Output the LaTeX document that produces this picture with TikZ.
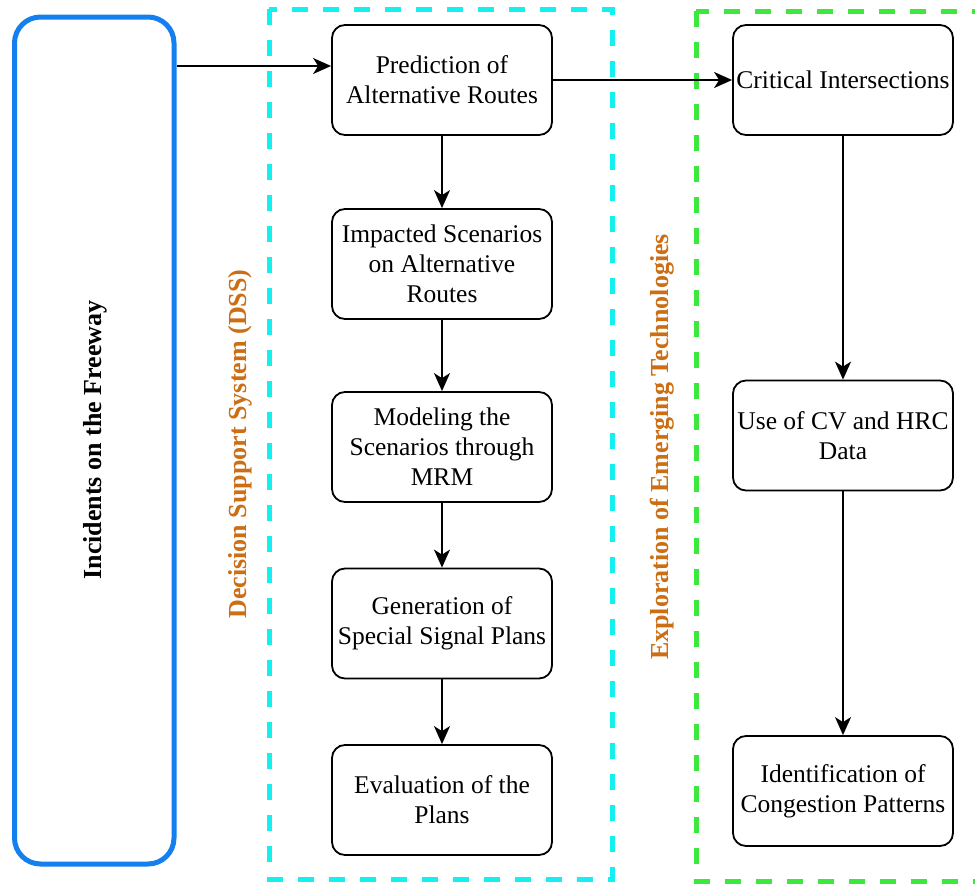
\documentclass[tikz,border=0pt]{standalone}
\usepackage{fontspec}
\setmainfont{Liberation Serif}
\usetikzlibrary{arrows.meta}
\definecolor{incblue}{RGB}{20,128,240}
\definecolor{dsscyan}{RGB}{20,240,240}
\definecolor{etgreen}{RGB}{60,232,60}
\definecolor{lblorange}{RGB}{204,110,20}
\tikzset{
  proc/.style={draw, rounded corners=13pt, line width=1.8pt,
    minimum width=220pt, minimum height=110pt, align=center,
    font=\fontsize{25.5}{30}\selectfont, inner sep=0pt},
  flow/.style={line width=1.6pt, -{Stealth[length=18pt,width=16pt,inset=5pt]}},
  grouplbl/.style={rotate=90, font=\fontsize{26}{30}\selectfont\bfseries, text=lblorange},
  groupbox/.style={line width=5pt, dash pattern=on 16pt off 15pt},
}
\begin{document}
\begin{tikzpicture}[x=1pt,y=-1pt]
\clip (0,0) rectangle (975,886);
\fill[white] (0,0) rectangle (975,886);

% group frames
\draw[groupbox, dsscyan] (269,9) rectangle (612,879);
\draw[groupbox, etgreen] (696,11) rectangle (995,881);

% incident source
\node[draw=incblue, line width=5pt, rounded corners=26pt,
      minimum width=159.5pt, minimum height=847pt, inner sep=0pt] (inc) at (94.25,440.5) {};
\node[rotate=90, font=\fontsize{26}{30}\selectfont\bfseries] (inclbl) at (95,440) {Incidents on the Freeway};

% group labels
\node[grouplbl] (dsslbl) at (240,444) {Decision Support System (DSS)};
\node[grouplbl] (etlbl) at (662,447) {Exploration of Emerging Technologies};

% DSS steps
\node[proc] (pred) at (442,80) {Prediction of\\Alternative Routes};
\node[proc] (imp) at (442,264) {Impacted Scenarios\\on Alternative\\Routes};
\node[proc] (mod) at (442,447) {Modeling the\\Scenarios through\\MRM};
\node[proc] (gen) at (442,623.5) {Generation of\\Special Signal Plans};
\node[proc] (eval) at (442,800) {Evaluation of the\\Plans};

% emerging technology steps
\node[proc] (crit) at (843,80) {Critical Intersections};
\node[proc] (cv) at (843,435.5) {Use of CV and HRC\\Data};
\node[proc] (cong) at (843,791) {Identification of\\Congestion Patterns};

% connectors
\draw[flow] ([yshift=14pt]pred.west -| inc.east) -- ([yshift=14pt]pred.west);
\draw[flow] (pred) -- (crit);
\draw[flow] (pred) -- (imp);
\draw[flow] (imp) -- (mod);
\draw[flow] (mod) -- (gen);
\draw[flow] (gen) -- (eval);
\draw[flow] (crit) -- (cv);
\draw[flow] (cv) -- (cong);
\end{tikzpicture}
\end{document}
